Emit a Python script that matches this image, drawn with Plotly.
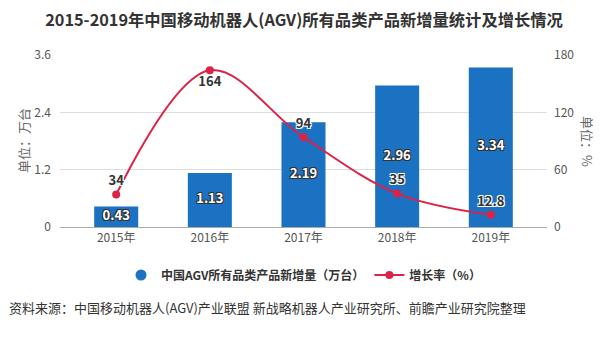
import plotly.graph_objects as go

years = ["2015年", "2016年", "2017年", "2018年", "2019年"]
volume = [0.43, 1.13, 2.19, 2.96, 3.34]
growth = [34, 164, 94, 35, 12.8]
growth_labels = ["34", "164", "94", "35", "12.8"]
growth_pos = ["top center", "bottom center", "top center", "top center", "top center"]

title = "2015-2019年中国移动机器人(AGV)所有品类产品新增量统计及增长情况"
name_bar = "中国AGV所有品类产品新增量（万台）"
name_line = "增长率（%）"
source = "资料来源：中国移动机器人(AGV)产业联盟 新战略机器人产业研究所、前瞻产业研究院整理"

FONT = "Noto Sans CJK SC"
BLUE = "#1b72c2"
RED = "#dc2247"

dark_outline = "-1px -1px 0 #333, 1px -1px 0 #333, -1px 1px 0 #333, 1px 1px 0 #333"
white_outline = "-1px -1px 0 #fff, 1px -1px 0 #fff, -1px 1px 0 #fff, 1px 1px 0 #fff"

fig = go.Figure()
fig.add_trace(go.Bar(
    x=years, y=volume, marker=dict(color=BLUE, line=dict(width=0)),
    width=0.47, showlegend=False, hoverinfo="skip",
))
fig.add_trace(go.Scatter(
    x=years, y=[v / 2 for v in volume], mode="text",
    text=[f"{v:.2f}" for v in volume],
    textfont=dict(family=FONT, size=13, color="#ffffff", weight="bold", shadow=dark_outline),
    showlegend=False, hoverinfo="skip",
))
# legend proxy for bar (circle icon)
fig.add_trace(go.Scatter(
    x=[None], y=[None], mode="markers", name=name_bar,
    marker=dict(color=BLUE, size=11, symbol="circle"),
))
fig.add_trace(go.Scatter(
    x=years, y=growth, mode="lines+markers+text", name=name_line, yaxis="y2",
    line=dict(color=RED, width=2, shape="spline", smoothing=1.0),
    marker=dict(color=RED, size=8),
    text=growth_labels, textposition=growth_pos,
    textfont=dict(family=FONT, size=13, color="#333333", weight="bold", shadow=white_outline),
    cliponaxis=False,
))

fig.update_layout(
    width=608, height=340,
    margin=dict(l=60, r=61, t=55, b=113),
    paper_bgcolor="white", plot_bgcolor="white",
    font=dict(family=FONT, color="#555555", size=12),
    title=dict(text=title, x=304 / 608, xanchor="center", y=1 - 20 / 340, yanchor="middle",
               font=dict(family=FONT, size=16.3, color="#333333", weight="bold")),
    xaxis=dict(range=[-0.6, 4.6], showgrid=False, showline=True, linecolor="#aaaaaa",
               ticks="", tickfont=dict(size=12, color="#555555"), zeroline=False),
    yaxis=dict(range=[0, 3.6], tickvals=[0, 1.2, 2.4, 3.6], ticktext=["0", "1.2", "2.4", "3.6"],
               showgrid=True, gridcolor="#dddddd", zeroline=False, showline=False,
               tickfont=dict(size=12, color="#555555"), ticklabelstandoff=8),
    yaxis2=dict(range=[0, 180], tickvals=[0, 60, 120, 180], overlaying="y", side="right",
                showgrid=False, zeroline=False, showline=False,
                tickfont=dict(size=12, color="#555555"), ticklabelstandoff=6),
    legend=dict(orientation="h", x=0.5, xanchor="center", y=(227 - 275) / 172, yanchor="middle",
                font=dict(family=FONT, size=12, color="#333333", weight="bold"),
                itemwidth=30, bgcolor="rgba(0,0,0,0)"),
    bargap=0.5,
)

fig.add_annotation(text="单位：万台", xref="paper", yref="paper", x=(23 - 60) / 487, y=0.5,
                   textangle=-90, showarrow=False, xanchor="center", yanchor="middle",
                   font=dict(family=FONT, size=13, color="#666666"))
fig.add_annotation(text="单位：%", xref="paper", yref="paper", x=(588 - 60) / 487, y=0.5,
                   textangle=90, showarrow=False, xanchor="center", yanchor="middle",
                   font=dict(family=FONT, size=13, color="#666666"))
fig.add_annotation(text=source, xref="paper", yref="paper", x=(7 - 60) / 487, y=(227 - 307) / 172,
                   xanchor="left", yanchor="middle", showarrow=False,
                   font=dict(family=FONT, size=13, color="#333333"))

fig.write_html("out.html")
